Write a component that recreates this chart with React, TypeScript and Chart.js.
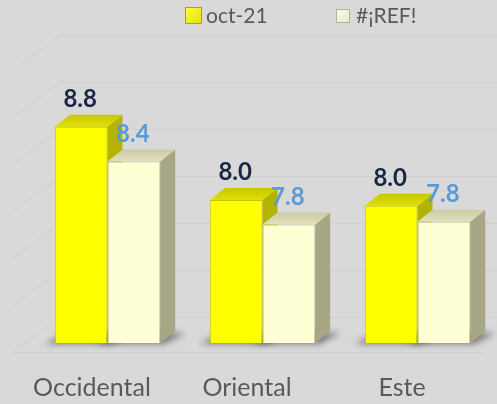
import React, { useEffect, useRef } from "react";
import { Chart, registerables } from "chart.js";

Chart.register(...registerables);

const categories = ["Occidental", "Oriental", "Este"];
const seriesNames = ["oct-21", "#¡REF!"];
const oct21 = [8.8, 8.02, 7.96];
const refSeries = [8.43, 7.76, 7.79];
const yMin = 6.5;
const yMax = 9.5;
const yStep = 0.5;

const DX = 15;
const DY = 12;

const faces = [
  { front: "#FFFF00", border: "#C4C400", topA: "#E0E000", topB: "#C6C600", side: "#B4B400", label: "#1A2742" },
  { front: "#FFFFD5", border: "#CFCEA8", topA: "#E2E1C0", topB: "#CCCBA6", side: "#A7A685", label: "#5B9BD5" },
];

const threeD = {
  id: "threeD",
  beforeDatasetsDraw(chart: any) {
    const { ctx, chartArea, scales } = chart;
    const y = scales.y;
    const backLeft = chartArea.left + 30;
    const frontLeft = chartArea.left - 17;
    ctx.save();
    ctx.strokeStyle = "#D0D0D0";
    ctx.lineWidth = 1;
    const ticks = y.ticks.map((t: any) => t.value);
    for (const v of ticks) {
      const py = Math.round(y.getPixelForValue(v)) + 0.5;
      ctx.beginPath();
      ctx.moveTo(frontLeft, py + 9);
      ctx.lineTo(backLeft, py - 26);
      ctx.lineTo(chart.width, py - 26);
      ctx.stroke();
    }
    const p0 = Math.round(y.getPixelForValue(yMin)) + 9.5;
    ctx.beginPath();
    ctx.moveTo(frontLeft, p0);
    ctx.lineTo(chartArea.right - 13, p0);
    ctx.stroke();
    ctx.restore();

    const bottom = chartArea.bottom;

    chart.data.datasets.forEach((_ds: any, di: number) => {
      const meta = chart.getDatasetMeta(di);
      meta.data.forEach((bar: any) => {
        const left = bar.x - bar.width / 2;
        const right = bar.x + bar.width / 2;
        const base = Math.min(bar.base, bottom);
        ctx.save();
        ctx.filter = "blur(3px)";
        ctx.fillStyle = "rgba(60,60,60,0.6)";
        ctx.beginPath();
        ctx.moveTo(left - 10, base + 1);
        ctx.lineTo(right + 4, base + 1);
        ctx.lineTo(right + DX + 10, base - DY + 2);
        ctx.lineTo(left + DX, base - DY);
        ctx.closePath();
        ctx.fill();
        ctx.restore();
      });
    });

    chart.data.datasets.forEach((_ds: any, di: number) => {
      const meta = chart.getDatasetMeta(di);
      const f = faces[di];
      meta.data.forEach((bar: any) => {
        const left = bar.x - bar.width / 2;
        const right = bar.x + bar.width / 2;
        const top = bar.y;
        const base = Math.min(bar.base, bottom);
        ctx.save();
        ctx.fillStyle = f.side;
        ctx.beginPath();
        ctx.moveTo(right, top);
        ctx.lineTo(right + DX, top - DY);
        ctx.lineTo(right + DX, base - DY);
        ctx.lineTo(right, base);
        ctx.closePath();
        ctx.fill();
        const g = ctx.createLinearGradient(0, top, 0, top - DY);
        g.addColorStop(0, f.topA);
        g.addColorStop(1, f.topB);
        ctx.fillStyle = g;
        ctx.beginPath();
        ctx.moveTo(left, top);
        ctx.lineTo(left + DX, top - DY);
        ctx.lineTo(right + DX, top - DY);
        ctx.lineTo(right, top);
        ctx.closePath();
        ctx.fill();
        ctx.restore();
      });
    });
  },
  afterDatasetsDraw(chart: any) {
    const { ctx } = chart;
    chart.data.datasets.forEach((ds: any, di: number) => {
      const meta = chart.getDatasetMeta(di);
      meta.data.forEach((bar: any, i: number) => {
        ctx.save();
        ctx.font = "bold 24px Lato";
        ctx.fillStyle = faces[di].label;
        ctx.textAlign = "center";
        ctx.textBaseline = "alphabetic";
        ctx.fillText(Number(ds.data[i]).toFixed(1), bar.x - 1, bar.y - 20);
        ctx.restore();
      });
    });
  },
  afterDraw(chart: any) {
    const { ctx } = chart;
    ctx.save();
    const g1 = ctx.createLinearGradient(185, 7, 202, 24);
    g1.addColorStop(0, "#FFFF40");
    g1.addColorStop(1, "#E0E000");
    ctx.fillStyle = g1;
    ctx.fillRect(185.5, 7.5, 16, 16);
    ctx.strokeStyle = "#A8A800";
    ctx.strokeRect(185.5, 7.5, 16, 16);
    const g2 = ctx.createLinearGradient(336, 9, 350, 23);
    g2.addColorStop(0, "#FFFFE8");
    g2.addColorStop(1, "#E6E5C8");
    ctx.fillStyle = g2;
    ctx.fillRect(336.5, 9.5, 13, 13);
    ctx.strokeStyle = "#B3B295";
    ctx.strokeRect(336.5, 9.5, 13, 13);
    ctx.font = "21px Lato";
    ctx.fillStyle = "#595959";
    ctx.textBaseline = "alphabetic";
    ctx.textAlign = "left";
    ctx.fillText(seriesNames[0], 206, 23);
    ctx.fillText(seriesNames[1], 356, 23);
    ctx.restore();
  },
};

export default function App() {
  const ref = useRef<HTMLCanvasElement>(null);
  useEffect(() => {
    if (!ref.current) return;
    const chart = new Chart(ref.current, {
      type: "bar",
      data: {
        labels: categories,
        datasets: [
          { label: seriesNames[0], data: oct21, backgroundColor: faces[0].front, borderColor: faces[0].border, borderWidth: 1 },
          { label: seriesNames[1], data: refSeries, backgroundColor: faces[1].front, borderColor: faces[1].border, borderWidth: 1 },
        ],
      },
      options: {
        responsive: false,
        animation: false,
        layout: { padding: { left: 30, right: 2, top: 61, bottom: 0 } },
        plugins: { legend: { display: false }, tooltip: { enabled: false } },
        datasets: { bar: { categoryPercentage: 0.68, barPercentage: 1 } },
        scales: {
          x: {
            grid: { display: false, drawTicks: false },
            border: { display: false },
            ticks: { color: "#595959", font: { family: "Lato", size: 25 }, padding: 30, labelOffset: -15.5 },
            afterFit: (s: any) => {
              s.height = 61;
            },
          },
          y: { display: false, min: yMin, max: yMax, ticks: { stepSize: yStep } },
        },
      },
      plugins: [threeD],
    } as any);
    return () => chart.destroy();
  }, []);
  return (
    <div style={{ position: "fixed", left: 0, top: 0, width: 497, height: 404, background: "#D9D9D9" }}>
      <canvas ref={ref} width={497} height={404} style={{ display: "block" }} />
    </div>
  );
}
